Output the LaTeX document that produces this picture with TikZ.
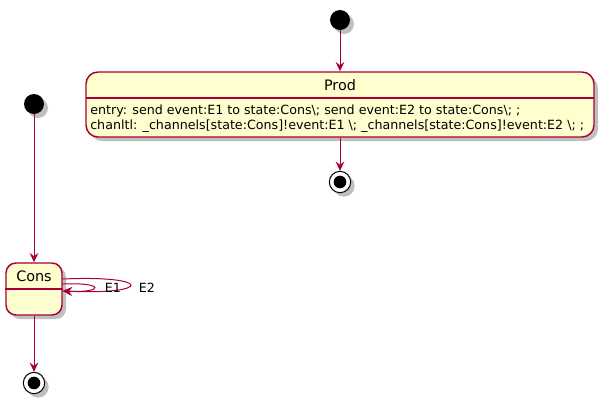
\documentclass[tikz,border=0pt]{standalone}
\usepackage{fontspec}
\setmainfont{DejaVu Sans}
\usetikzlibrary{arrows.meta,shadows}
\definecolor{umlred}{HTML}{A80036}
\definecolor{umlfill}{HTML}{FEFECE}
\begin{document}
\begin{tikzpicture}[x=0.75pt,y=-0.75pt,
  shadowed/.style={drop shadow={shadow xshift=3pt,shadow yshift=-3pt,fill=black,opacity=0.25}},
  statebox/.style={draw=umlred,fill=umlfill,line width=1.1pt,rounded corners=9pt,shadowed,inner sep=0pt},
  initst/.style={circle,fill=black,minimum size=15pt,inner sep=0pt,shadowed},
  finalst/.style={circle,draw=black,fill=white,line width=0.75pt,minimum size=16pt,inner sep=0pt,shadowed},
  finaldot/.style={circle,fill=black,minimum size=9.5pt,inner sep=0pt},
  trans/.style={draw=umlred,line width=0.75pt,-{Stealth[length=7pt,width=6.5pt,inset=2.5pt]}},
  sepline/.style={draw=umlred,line width=1pt},
  title/.style={font=\fontsize{10.8}{12}\selectfont,inner sep=0pt,anchor=base},
  body/.style={font=\fontsize{9.5}{11}\selectfont,inner sep=0pt,anchor=base west},
  lbl/.style={font=\fontsize{9.5}{11}\selectfont,inner sep=0pt,anchor=base west}]
\useasboundingbox (0,0) rectangle (604,404);
% Prod
\node[initst] (pinit) at (340,20) {};
\node[statebox,minimum width=381pt,minimum height=48.75pt] (prod) at (340,104.5) {};
\coordinate (psl) at (86,98);
\coordinate (psr) at (594,98);
\draw[sepline] (psl) -- (psr);
\node[title] (prodname) at (340,90) {Prod};
\node[body] (prodentry) at (90,114) {entry: send event:E1 to state:Cons\textbackslash; send event:E2 to state:Cons\textbackslash; ;};
\node[body] (prodchan) at (90,129) {chanltl: \_channels[state:Cons]!event:E1 \textbackslash; \_channels[state:Cons]!event:E2 \textbackslash; ;};
\node[finalst] (pfinal) at (340,182) {};
\node[finaldot] (pfdot) at (pfinal.center) {};
\draw[trans] (pinit) -- (prod);
\draw[trans] (prod) -- (pfinal);
% Cons
\node[initst] (cinit) at (34,104) {};
\node[statebox,minimum width=42pt,minimum height=39pt,rounded corners=7.5pt] (cons) at (34,289) {};
\draw[sepline] (cons.west) -- (cons.east);
\node[title] (consname) at (34,281) {Cons};
\node[finalst] (cfinal) at (34,383) {};
\node[finaldot] (cfdot) at (cfinal.center) {};
\draw[trans] (cinit) -- (cons);
\draw[trans] (cons) -- (cfinal);
\draw[trans] ([yshift=3.75pt]cons.east) .. controls +(42,-2) and +(42,2) .. ([yshift=-1.5pt]cons.east);
\draw[trans] ([yshift=7.5pt]cons.east) .. controls +(90,-4) and +(90,4) .. ([yshift=-1.5pt]cons.east);
\node[lbl] (e1) at (104.5,292) {E1};
\node[lbl] (e2) at (138.5,292) {E2};
\end{tikzpicture}
\end{document}
